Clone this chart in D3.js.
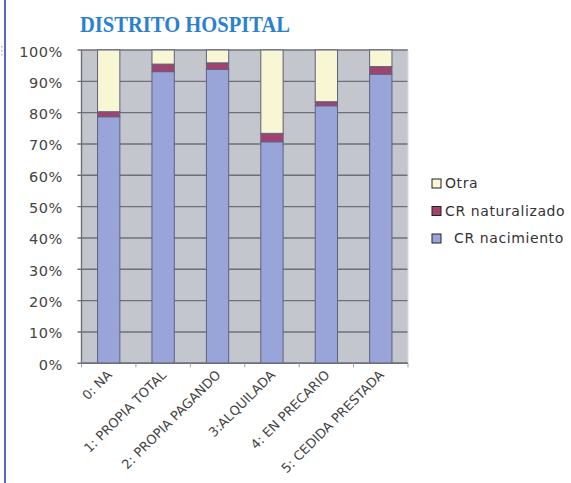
<!DOCTYPE html>
<html><head><meta charset="utf-8">
<script src="https://cdn.jsdelivr.net/npm/d3@7"></script>
<style>html,body{margin:0;padding:0;background:#fff;}svg{display:block;}</style>
</head><body>
<script>
const categories = ["0: NA","1: PROPIA TOTAL","2: PROPIA PAGANDO","3:ALQUILADA","4: EN PRECARIO","5: CEDIDA PRESTADA"];
const crNacimiento = [78.7, 93.1, 93.8, 70.7, 82.2, 92.3];
const crNaturalizado = [1.6, 2.4, 2.1, 2.7, 1.3, 2.4];
const otra = [19.7, 4.5, 4.1, 26.6, 16.5, 5.3];
const seriesNames = ["CR nacimiento","CR naturalizado","Otra"];
const yTicks = [0,10,20,30,40,50,60,70,80,90,100];

const W = 571, H = 483;
const colors = {"CR nacimiento":"#99a4d9","CR naturalizado":"#a2436f","Otra":"#f8f6d3"};
const svg = d3.select("body").append("svg").attr("width",W).attr("height",H);
svg.append("rect").attr("width",W).attr("height",H).attr("fill","#fff");

// left blue frame line
svg.append("line").attr("x1",5).attr("x2",5).attr("y1",0).attr("y2",H)
  .attr("stroke","#2f3fc4").attr("stroke-width",1.6);
// small dotted mark at left
svg.append("g").selectAll("rect").data([46,50,54]).join("rect")
  .attr("x",1).attr("y",d=>d).attr("width",1.5).attr("height",1.5).attr("fill","#bbb");

const m = {left:81.5, right:408, top:50, bottom:363.3};
const x = d3.scaleBand().domain(categories).range([m.left,m.right]).paddingInner(0.59).paddingOuter(0.295);
const y = d3.scaleLinear().domain([0,100]).range([m.bottom,m.top]);

svg.append("rect").attr("x",m.left).attr("y",m.top).attr("width",m.right-m.left).attr("height",m.bottom-m.top)
  .attr("fill","#c3c6cd");

// gridlines
svg.append("g").selectAll("line").data(yTicks).join("line")
  .attr("x1",m.left-4).attr("x2",m.right).attr("y1",d=>y(d)).attr("y2",d=>y(d))
  .attr("stroke","#6d7177").attr("stroke-width",1.4);
// right border
svg.append("line").attr("x1",m.right).attr("x2",m.right).attr("y1",m.top).attr("y2",m.bottom)
  .attr("stroke","#d8dade").attr("stroke-width",1);

const data = categories.map((c,i)=>({cat:c,"CR nacimiento":crNacimiento[i],"CR naturalizado":crNaturalizado[i],"Otra":otra[i]}));
const stack = d3.stack().keys(seriesNames)(data);
svg.append("g").selectAll("g").data(stack).join("g").attr("fill",d=>colors[d.key])
  .selectAll("rect").data(d=>d).join("rect")
  .attr("x",d=>x(d.data.cat)).attr("width",x.bandwidth())
  .attr("y",d=>y(d[1])).attr("height",d=>y(d[0])-y(d[1]))
  .attr("stroke","#5d6180").attr("stroke-width",1);

// axes lines
svg.append("line").attr("x1",m.left).attr("x2",m.left).attr("y1",m.top).attr("y2",m.bottom)
  .attr("stroke","#6d7177").attr("stroke-width",1.4);
const xb = d3.scaleLinear().domain([0,categories.length]).range([m.left,m.right]);
svg.append("line").attr("x1",m.left).attr("x2",m.right).attr("y1",m.bottom).attr("y2",m.bottom)
  .attr("stroke","#6d7177").attr("stroke-width",1.4);
svg.append("g").selectAll("line").data(d3.range(categories.length+1)).join("line")
  .attr("x1",d=>xb(d)).attr("x2",d=>xb(d)).attr("y1",m.bottom).attr("y2",m.bottom+4)
  .attr("stroke","#9a9da2").attr("stroke-width",1);

// y labels
svg.append("g").selectAll("text").data(yTicks).join("text")
  .attr("x",63).attr("y",d=>y(d)+6.5).attr("text-anchor","end")
  .attr("font-family","DejaVu Sans").attr("font-size",14.5).attr("letter-spacing",0.6).attr("fill","#444")
  .text(d=>d+"%");

// x labels
svg.append("g").selectAll("text").data(categories).join("text")
  .attr("transform",d=>`translate(${x(d)+x.bandwidth()/2+4},${m.bottom+12.5}) rotate(-45)`)
  .attr("text-anchor","end")
  .attr("font-family","DejaVu Sans").attr("font-size",13).attr("fill","#444")
  .text(d=>d);

// title
svg.append("text").attr("x",80).attr("y",31.5).attr("font-family","Liberation Serif").attr("font-weight","bold")
  .attr("font-size",24).attr("fill","#2a80d2").attr("textLength",210).attr("lengthAdjust","spacingAndGlyphs")
  .text("DISTRITO HOSPITAL");

// legend
const legItems = [["Otra",0,445],["CR naturalizado",1,445],["CR nacimiento",2,454]];
const lg = svg.append("g");
legItems.forEach(([name,i,tx])=>{
  const yy = 183 + i*27.5;
  lg.append("rect").attr("x",432).attr("y",yy-4).attr("width",9).attr("height",9)
    .attr("fill",colors[name]).attr("stroke","#222").attr("stroke-width",1);
  lg.append("text").attr("x",tx).attr("y",yy+5).attr("font-family","DejaVu Sans").attr("font-size",14)
    .attr("letter-spacing",0.6).attr("fill","#333").text(name);
});
</script>
</body></html>
